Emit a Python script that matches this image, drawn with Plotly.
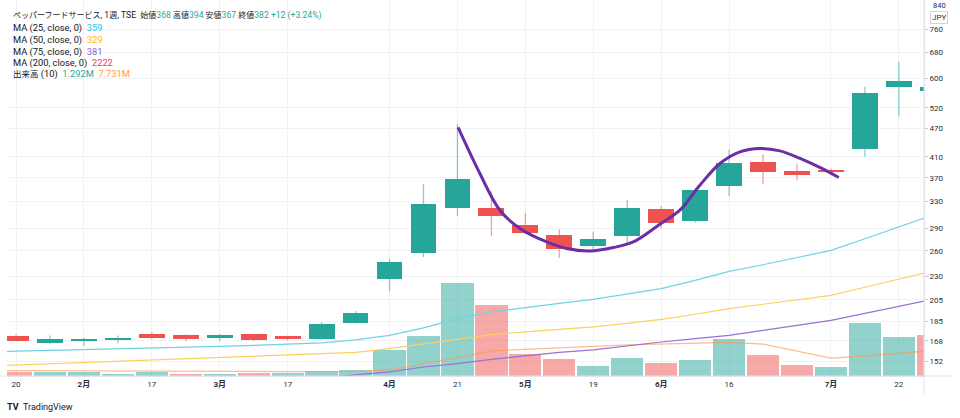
import math
import plotly.graph_objects as go

# ---------------- data (weekly, TSE ペッパーフードサービス) ----------------
week_labels = ["2025-01-20", "2025-01-27", "2025-02-03", "2025-02-10", "2025-02-17", "2025-02-24",
               "2025-03-03", "2025-03-10", "2025-03-17", "2025-03-24", "2025-03-31", "2025-04-07",
               "2025-04-14", "2025-04-21", "2025-04-28", "2025-05-07", "2025-05-12", "2025-05-19",
               "2025-05-26", "2025-06-02", "2025-06-09", "2025-06-16", "2025-06-23", "2025-06-30",
               "2025-07-07", "2025-07-14", "2025-07-22", "2025-07-28"]
open_ = [171.8, 166.3, 168.5, 169.0, 174.1, 172.9, 170.8, 173.5, 171.8, 169.4, 183.6, 226.5,
         257.8, 320.0, 320.3, 294.1, 281.0, 265.7, 279.2, 317.9, 300.4, 355.6, 400.0, 382.4,
         384.3, 425.6, 575.5, 564.4]
high = [173.3, 172.6, 170.5, 172.6, 175.5, 173.5, 174.0, 174.0, 172.5, 184.2, 194.3, 250.1,
        359.0, 480.0, 346.9, 312.7, 288.7, 285.0, 332.5, 323.1, 352.0, 424.9, 414.7, 397.0,
        387.5, 575.5, 649.9, 578.0]
low = [168.0, 165.3, 164.0, 166.0, 169.4, 168.0, 168.0, 168.0, 168.5, 169.1, 183.0, 213.7,
       252.3, 307.9, 279.0, 282.0, 251.2, 260.5, 269.0, 289.7, 298.0, 338.9, 359.0, 366.1,
       375.0, 409.9, 498.9, 562.0]
close = [168.2, 169.4, 169.0, 169.5, 170.8, 169.6, 172.9, 168.5, 169.4, 182.1, 192.4, 246.3,
         325.4, 367.9, 308.2, 282.9, 262.7, 275.4, 320.0, 297.0, 349.9, 398.1, 381.1, 375.1,
         381.0, 557.4, 592.4, 575.5]
volume_m = [0.12, 0.12, 0.12, 0.06, 0.12, 0.07, 0.07, 0.10, 0.09, 0.16, 0.19, 0.83, 1.27, 2.93,
            2.24, 0.69, 0.53, 0.33, 0.58, 0.40, 0.50, 1.17, 0.66, 0.34, 0.29, 1.66, 1.24, 1.29]
volume_up = [0, 1, 1, 1, 1, 0, 1, 0, 1, 1, 1, 1, 1, 1, 0, 0, 0, 1, 1, 0, 1, 1, 0, 0, 1, 1, 1, 0]

# moving averages, one value per week starting one week before the first visible candle
ma_start = -1
ma25 = [158.6, 160.0, 160.6, 161.1, 161.7, 162.1, 162.9, 163.7, 164.5, 165.3, 166.5, 168.9,
        172.7, 179.0, 187.2, 193.4, 197.7, 201.6, 205.6, 211.2, 216.5, 225.4, 235.4, 243.0,
        251.8, 260.5, 275.6, 291.6, 309.1]
ma50 = [148.6, 149.5, 150.4, 151.3, 152.2, 153.1, 153.9, 154.8, 155.8, 156.7, 157.7, 159.0,
        161.9, 165.7, 169.9, 173.3, 175.6, 177.8, 179.9, 183.0, 186.6, 191.2, 196.5, 200.7,
        205.1, 209.6, 217.9, 226.5, 235.8]
ma75 = [132.5, 133.2, 133.9, 134.6, 135.3, 136.0, 136.7, 137.4, 138.1, 138.8, 140.6, 142.6,
        144.7, 148.1, 150.5, 153.7, 156.3, 159.0, 161.0, 164.3, 167.2, 169.9, 172.7, 176.9,
        181.3, 185.7, 192.1, 198.7, 205.6]
vol_ma10 = [0.17, 0.18, 0.17, 0.16, 0.16, 0.16, 0.15, 0.15, 0.14, 0.14, 0.135, 0.135, 0.19,
            0.38, 0.58, 0.79, 0.83, 0.88, 0.93, 0.98, 1.01, 1.04, 1.06, 1.00, 0.79, 0.56, 0.63,
            0.72, 0.80]

# hand-drawn cup curve (week index, price)
curve_x = [13.02, 13.66, 14.25, 14.84, 15.63, 16.22, 16.90, 17.59, 18.18, 18.96, 19.55, 20.14,
           20.73, 21.32, 21.91, 22.50, 23.09, 23.67, 24.23]
curve_y = [472.6, 378.1, 316.5, 289.7, 271.4, 262.9, 259.8, 264.2, 271.4, 295.7, 316.5, 357.3,
           396.9, 419.9, 426.9, 421.9, 406.7, 389.3, 370.9]

x_tick_idx = [0, 2, 4, 6, 8, 11, 13, 15, 17, 19, 21, 24, 26]
x_tick_text = ["20", "<b>2月</b>", "17", "<b>3月</b>", "17", "<b>4月</b>", "21", "<b>5月</b>",
               "19", "<b>6月</b>", "16", "<b>7月</b>", "22"]
price_ticks = [152, 168, 185, 205, 230, 260, 290, 330, 370, 410, 470, 520, 600, 680, 760]
top_tick = "840"

# ---------------- styling ----------------
UP = "#26a69a"
DOWN = "#ef5350"
UP_V = "rgba(38,166,154,0.5)"
DOWN_V = "rgba(239,83,80,0.5)"
FONT = "Roboto, Noto Sans CJK JP, sans-serif"
TXT = "#131722"

n = len(open_)
xs = list(range(n))
ma_x = [ma_start + k for k in range(len(ma25))]

fig = go.Figure()

# volume (primary y, hidden, linear)
fig.add_trace(go.Bar(
    x=xs, y=volume_m, width=0.95,
    marker=dict(color=[UP_V if u else DOWN_V for u in volume_up], line=dict(width=0)),
    yaxis="y", hoverinfo="skip"))
fig.add_trace(go.Scatter(x=ma_x, y=vol_ma10, mode="lines", yaxis="y",
                         line=dict(color="rgba(255,152,80,0.65)", width=1.3), hoverinfo="skip"))

# moving averages on price axis
for vals, c in [(ma25, "#6fd3e4"), (ma50, "#fcd161"), (ma75, "#9a70d6")]:
    fig.add_trace(go.Scatter(x=ma_x, y=vals, mode="lines", yaxis="y2",
                             line=dict(color=c, width=1.2), hoverinfo="skip"))

# wicks
for want_up, c in [(True, "rgba(38,166,154,0.55)"), (False, "rgba(239,83,80,0.55)")]:
    wx, wy = [], []
    for i in range(n):
        if (close[i] >= open_[i]) == want_up:
            wx += [xs[i], xs[i], None]
            wy += [low[i], high[i], None]
    fig.add_trace(go.Scatter(x=wx, y=wy, mode="lines", yaxis="y2",
                             line=dict(color=c, width=1.3), hoverinfo="skip"))

# candle bodies
base = [min(o, c) for o, c in zip(open_, close)]
size = [max(abs(c - o), 0.9) for o, c in zip(open_, close)]
body_col = [UP if c >= o else DOWN for o, c in zip(open_, close)]
fig.add_trace(go.Bar(x=xs, y=size, base=base, width=0.76, yaxis="y2",
                     marker=dict(color=body_col, line=dict(width=0)), hoverinfo="skip"))

# drawn curve
fig.add_trace(go.Scatter(x=curve_x, y=curve_y, mode="lines", yaxis="y2",
                         line=dict(color="#6c2ea6", width=3, shape="spline", smoothing=1.0),
                         hoverinfo="skip"))

L, R, T, B = 7, 36, 0, 42
PW, PH = 960 - L - R, 418 - T - B


def px(xp):
    return (xp - L) / PW


def py(yp):
    return (PH - (yp - T)) / PH


fig.update_layout(
    width=960, height=418,
    margin=dict(l=L, r=R, t=T, b=B),
    paper_bgcolor="white", plot_bgcolor="white",
    showlegend=False, barmode="overlay", bargap=0,
    font=dict(family=FONT, size=8, color=TXT),
    xaxis=dict(range=[-0.265, 26.74], tickmode="array", tickvals=x_tick_idx, ticktext=x_tick_text,
               showgrid=True, gridcolor="#f0f2f5", gridwidth=1, zeroline=False,
               showline=True, linecolor="#e0e3eb", linewidth=1, ticks="",
               tickfont=dict(size=8, color="#2a2e39", family=FONT)),
    yaxis=dict(range=[0, 11.83], visible=False, fixedrange=True),
    yaxis2=dict(type="log", overlaying="y", side="right",
                range=[math.log10(141.8), math.log10(876)],
                tickmode="array", tickvals=price_ticks, ticktext=[str(v) for v in price_ticks],
                showgrid=True, gridcolor="#f0f2f5", gridwidth=1, zeroline=False,
                showline=True, linecolor="#e0e3eb", linewidth=1,
                ticks="outside", ticklen=3, tickcolor="#c8cbd3",
                tickfont=dict(size=8, color="#2a2e39", family=FONT)),
)


def jp(s, size=8):
    return "<span style='font-size:%spx'>%s</span>" % (size, s)


def col(s, c):
    return "<span style='color:%s'>%s</span>" % (c, s)


# legend block (top-left)
teal = "#26a69a"
title = (jp("ペッパーフードサービス") + ", 1" + jp("週") + ", TSE  "
         + jp("始値") + col("368", teal) + " " + jp("高値") + col("394", teal) + " "
         + jp("安値") + col("367", teal) + " " + jp("終値") + col("382", teal) + " "
         + col("+12 (+3.24%)", teal))
fig.add_annotation(text=title, xref="paper", yref="paper", x=px(11), y=py(16),
                   xanchor="left", yanchor="middle", showarrow=False,
                   font=dict(size=8.6, color=TXT, family=FONT))
rows = [
    ("MA (25, close, 0)  " + col("359", "#22c3dd"), 28),
    ("MA (50, close, 0)  " + col("329", "#f9b824"), 40),
    ("MA (75, close, 0)  " + col("381", "#8f5fd2"), 52),
    ("MA (200, close, 0)  " + col("2222", "#ec3a6e"), 63),
    (jp("出来高", 8.5) + " (10)  " + col("1.292M", "#26a69a") + "  " + col("7.731M", "#ff9a4d"), 74),
]
for txt, yp in rows:
    fig.add_annotation(text=txt, xref="paper", yref="paper", x=px(11), y=py(yp),
                       xanchor="left", yanchor="middle", showarrow=False,
                       font=dict(size=9.3, color=TXT, family=FONT))

# top price label at the chart's upper edge
fig.add_annotation(text=top_tick, xref="paper", yref="paper", x=px(931), y=py(5.5),
                   xanchor="left", yanchor="middle", showarrow=False,
                   font=dict(size=7.5, color="#2a2e39", family=FONT))
# JPY badge
fig.add_annotation(text="JPY", xref="paper", yref="paper", x=px(939), y=py(18),
                   xanchor="center", yanchor="middle", showarrow=False,
                   bgcolor="white", bordercolor="#d1d4dc", borderwidth=1, borderpad=1,
                   font=dict(size=8, color="#2a2e39", family=FONT))

# TradingView mark
fig.add_annotation(text="<b>TV</b>", xref="paper", yref="paper", x=px(5), y=py(407),
                   xanchor="left", yanchor="middle", showarrow=False,
                   font=dict(size=9, color=TXT, family=FONT))
fig.add_annotation(text="TradingView", xref="paper", yref="paper", x=px(21), y=py(407),
                   xanchor="left", yanchor="middle", showarrow=False,
                   font=dict(size=9, color=TXT, family=FONT))

# axis separators extending past the plot area
fig.add_shape(type="line", xref="paper", yref="paper", x0=px(0), x1=px(953), y0=0, y1=0,
              line=dict(color="#e0e3eb", width=1))
fig.add_shape(type="line", xref="paper", yref="paper", x0=1, x1=1, y0=py(395), y1=1,
              line=dict(color="#e0e3eb", width=1))

fig.write_html("out.html",
               config={"displayModeBar": False},
               post_script="document.body.style.margin='0';"
                           "document.documentElement.style.overflow='hidden';")
